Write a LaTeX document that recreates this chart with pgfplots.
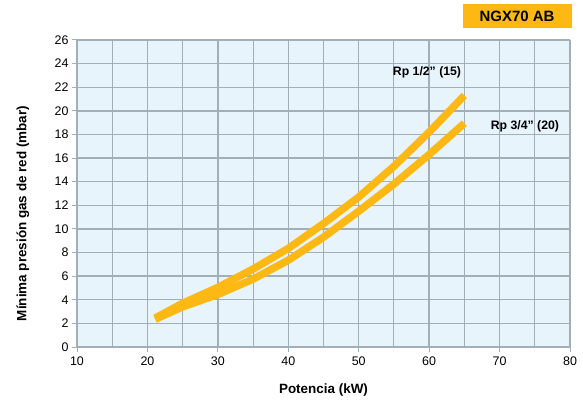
\documentclass[border=0pt]{standalone}
\usepackage{fontspec}
\setmainfont{Liberation Sans}
\usepackage{pgfplots}
\pgfplotsset{compat=1.18}

\definecolor{curve}{HTML}{FDB813}
\definecolor{bgblue}{HTML}{E8F4FC}
\definecolor{gridc}{HTML}{A3AFB8}

\begin{document}
\begin{tikzpicture}
  \useasboundingbox (-77bp,-56bp) rectangle (506bp,347bp);
  \begin{axis}[
    at={(0,0)}, anchor=south west,
    scale only axis, width=493bp, height=307bp,
    xmin=10, xmax=80, ymin=0, ymax=26,
    xtick={10,20,...,80}, minor xtick={15,25,...,75},
    ytick={0,2,...,26},
    grid=both,
    major grid style={gridc, line width=1.4pt},
    minor grid style={gridc, line width=0.9pt},
    axis background/.style={fill=bgblue},
    axis line style={gridc, line width=2pt},
    axis x line*=bottom, axis y line*=left,
    tick style={gridc, line width=1pt},
    major tick length=5bp, minor tick length=0pt,
    tick align=outside,
    /pgf/number format/assume math mode=true,
    ticklabel style={font=\fontsize{12.5}{14}\selectfont},
    xticklabel style={yshift=-1bp},
    xlabel={\bfseries Potencia (kW)},
    ylabel={\bfseries Mínima presión gas de red (mbar)},
    label style={font=\fontsize{13.5}{15}\selectfont},
    xlabel style={at={(axis description cs:0.5,0)}, anchor=center, yshift=-43bp},
    ylabel style={at={(axis description cs:-0.11,0.435)}, anchor=center},
    clip=false,
  ]
    \addplot[curve, line width=7.5bp] coordinates {
      (21.1,2.45)(25,3.7)(30,5.05)(35,6.6)(40,8.35)(45,10.45)
      (50,12.7)(55,15.3)(60,18.2)(65,21.3)};
    \addplot[curve, line width=7.5bp] coordinates {
      (21.1,2.35)(25,3.4)(30,4.45)(35,5.75)(40,7.35)(45,9.3)
      (50,11.5)(55,13.8)(60,16.3)(65,18.95)};
    \node[font=\bfseries\fontsize{12.3}{14}\selectfont] at (axis cs:59.7,23.3) {Rp 1/2” (15)};
    \node[font=\bfseries\fontsize{12.3}{14}\selectfont] at (axis cs:73.6,18.7) {Rp 3/4” (20)};
  \end{axis}
  \node[fill=curve, minimum width=109bp, minimum height=24bp, inner sep=0pt,
        font=\bfseries\fontsize{15}{17}\selectfont] at (440bp,331bp) {NGX70 AB};
\end{tikzpicture}
\end{document}
